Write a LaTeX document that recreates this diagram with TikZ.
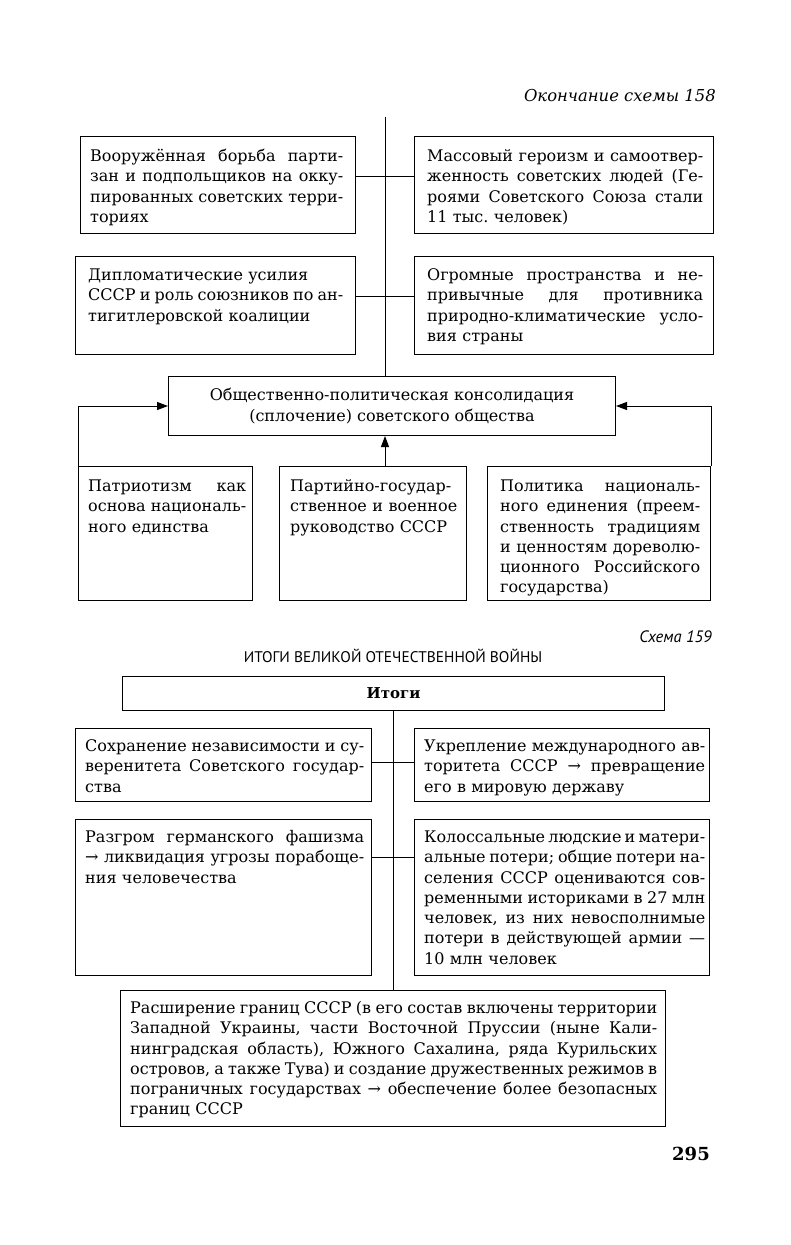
\documentclass[tikz,border=0pt]{standalone}
\usepackage{fontspec}
\setmainfont{DejaVu Serif}
\setsansfont{PT Sans}
\usetikzlibrary{arrows.meta}
\frenchspacing
\newcommand\J[1]{\hbox to \hsize{\spaceskip=0.3em plus 3em minus 0.14em\xspaceskip=\spaceskip\strut #1}}
\newcommand\R[1]{\hbox to \hsize{\strut #1\hfil}}
\newcommand\T[1]{\vbox{#1}}
\tikzset{
  frame/.style={draw, line width=1pt, anchor=north west, inner sep=0pt},
  txt/.style={anchor=north west, inner sep=0pt, font=\fontsize{16}{20.3}\selectfont},
  conn/.style={line width=1pt},
  arr/.style={line width=1pt, -{Triangle[length=11pt,width=8pt]}}
}
\begin{document}
\begin{tikzpicture}[x=1pt,y=-1pt]
\useasboundingbox (0,0) rectangle (791,1245);
% header
\node[anchor=base east, inner sep=0pt, font=\itshape\fontsize{16.4}{19}\selectfont] (hdr) at (716,101) {Окончание схемы 158};
% top boxes
\node[frame, minimum width=275pt, minimum height=97pt] (A) at (80,136) {};
\node[txt, text width=253pt] (At) at ([shift={(10pt,-11pt)}]A.north west) {\T{\J{Вооружённая борьба парти-}\J{зан и подпольщиков на окку-}\J{пированных советских терри-}\R{ториях}}};
\node[frame, minimum width=299pt, minimum height=97pt] (B) at (414,136) {};
\node[txt, text width=276pt] (Bt) at ([shift={(13pt,-11pt)}]B.north west) {\T{\J{Массовый героизм и самоотвер-}\J{женность советских людей (Ге-}\J{роями Советского Союза стали}\R{11 тыс. человек)}}};
\node[frame, minimum width=280pt, minimum height=98pt] (C) at (75,256) {};
\node[txt, text width=255pt] (Ct) at ([shift={(13pt,-10pt)}]C.north west) {\T{\R{Дипломатические усилия}\J{СССР и роль союзников по ан-}\R{тигитлеровской коалиции}}};
\node[frame, minimum width=299pt, minimum height=98pt] (D) at (414,256) {};
\node[txt, text width=276pt] (Dt) at ([shift={(13pt,-10pt)}]D.north west) {\T{\J{Огромные пространства и не-}\J{привычные для противника}\J{природно-климатические усло-}\R{вия страны}}};
\node[frame, minimum width=447pt, minimum height=59pt] (E) at (168,376) {};
\node[inner sep=0pt, align=center, font=\fontsize{16}{20.5}\selectfont] (Et) at (E.center) {Общественно-политическая консолидация\\(сплочение) советского общества};
\node[frame, minimum width=174pt, minimum height=134pt] (F) at (78,466) {};
\node[txt, text width=158pt] (Ft) at ([shift={(10pt,-11pt)}]F.north west) {\T{\J{Патриотизм как}\J{основа националь-}\R{ного единства}}};
\node[frame, minimum width=187pt, minimum height=134pt] (G) at (279,466) {};
\node[txt, text width=167pt] (Gt) at ([shift={(11pt,-11pt)}]G.north west) {\T{\J{Партийно-государ-}\J{ственное и военное}\R{руководство СССР}}};
\node[frame, minimum width=223pt, minimum height=134pt] (H) at (487,466) {};
\node[txt, text width=200pt] (Ht) at ([shift={(13pt,-11pt)}]H.north west) {\T{\J{Политика националь-}\J{ного единения (преем-}\J{ственность традициям}\J{и ценностям дореволю-}\J{ционного Российского}\R{государства)}}};
% connectors top
\coordinate (top) at (385,117);
\draw[conn] (top) -- (top |- E.north);
\draw[conn] ([yshift=8.5pt]A.east) -- ([yshift=8.5pt]B.west);
\draw[conn] ([yshift=9pt]C.east) -- ([yshift=9pt]D.west);
\draw[arr] (top |- G.north) -- (top |- E.south);
\draw[arr] (F.north west) |- (E.west);
\draw[arr] (H.north east) |- (E.east);
% section 2
\node[anchor=base east, inner sep=0pt, font=\sffamily\itshape\fontsize{16.5}{19}\selectfont] (s159) at (712,642) {Схема 159};
\node[anchor=base, inner sep=0pt, font=\sffamily\fontsize{15.4}{18}\selectfont] (ttl) at (393,662) {ИТОГИ ВЕЛИКОЙ ОТЕЧЕСТВЕННОЙ ВОЙНЫ};
\node[frame, minimum width=542pt, minimum height=34pt] (It) at (122,676) {};
\node[inner sep=0pt, font=\bfseries\fontsize{15}{17}\selectfont] (Itt) at (It.center) {Итоги};
\node[frame, minimum width=296pt, minimum height=73pt] (I) at (75,728) {};
\node[txt, text width=279pt] (Itx) at ([shift={(10pt,-9pt)}]I.north west) {\T{\J{Сохранение независимости и су-}\J{веренитета Советского государ-}\R{ства}}};
\node[frame, minimum width=295pt, minimum height=73pt] (Jb) at (414,728) {};
\node[txt, text width=281pt] (Jt) at ([shift={(10pt,-9pt)}]Jb.north west) {\T{\J{Укрепление международного ав-}\J{торитета СССР → превращение}\R{его в мировую державу}}};
\node[frame, minimum width=296pt, minimum height=156pt] (K) at (75,819) {};
\node[txt, text width=279pt] (Kt) at ([shift={(10pt,-9pt)}]K.north west) {\T{\J{Разгром германского фашизма}\J{→ ликвидация угрозы порабоще-}\R{ния человечества}}};
\node[frame, minimum width=295pt, minimum height=156pt] (M) at (414,819) {};
\node[txt, text width=281pt] (Mt) at ([shift={(10pt,-9pt)}]M.north west) {\T{\J{Колоссальные людские и матери-}\J{альные потери; общие потери на-}\J{селения СССР оцениваются сов-}\J{ременными историками в 27 млн}\J{человек, из них невосполнимые}\J{потери в действующей армии —}\R{10 млн человек}}};
\node[frame, minimum width=545pt, minimum height=136pt] (L) at (120,990) {};
\node[txt, text width=527pt] (Lt) at ([shift={(10pt,-9pt)}]L.north west) {\T{\J{Расширение границ СССР (в его состав включены территории}\J{Западной Украины, части Восточной Пруссии (ныне Кали-}\J{нинградская область), Южного Сахалина, ряда Курильских}\J{островов, а также Тува) и создание дружественных режимов в}\J{пограничных государствах → обеспечение более безопасных}\R{границ СССР}}};
\draw[conn] (It.south) -- (It.south |- L.north);
\draw[conn] ([yshift=2.5pt]I.east) -- ([yshift=2.5pt]Jb.west);
\draw[conn] ([yshift=40pt]K.east) -- ([yshift=40pt]M.west);
\node[anchor=base, inner sep=0pt, font=\bfseries\fontsize{18}{21}\selectfont] (pg) at (691,1160) {295};
\end{tikzpicture}
\end{document}
